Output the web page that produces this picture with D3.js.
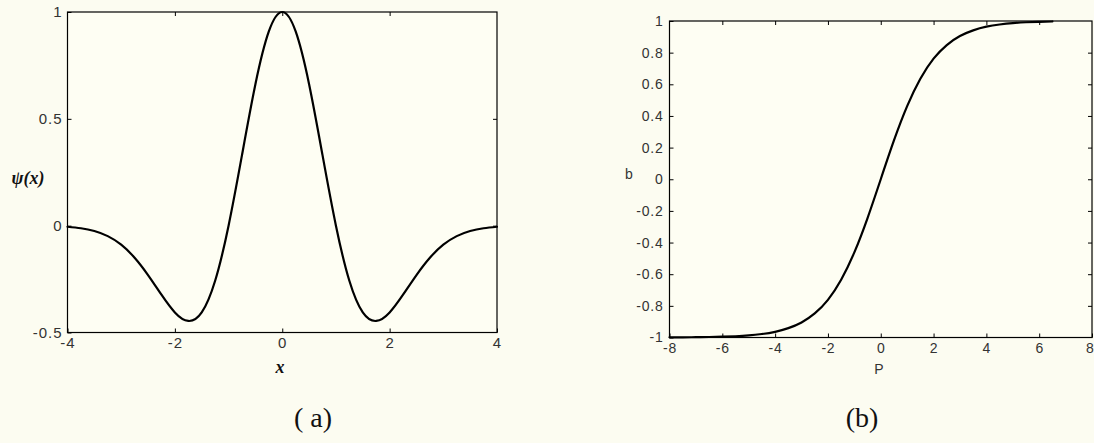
<!DOCTYPE html>
<html>
<head>
<meta charset="utf-8">
<script src="https://cdn.jsdelivr.net/npm/d3@7"></script>
<style>
  html, body { margin: 0; padding: 0; background: #fcfcf1; }
  svg { display: block; }
</style>
</head>
<body>
<svg id="chart" width="1094" height="443"></svg>
<script>
// ---------- data ----------
// Panel (a): psi(x)
const aX = [-4,-3.75,-3.5,-3.25,-3,-2.75,-2.5,-2.25,-2,-1.75,-1.5,-1.25,-1,-0.75,-0.5,-0.25,0,
            0.25,0.5,0.75,1,1.25,1.5,1.75,2,2.25,2.5,2.75,3,3.25,3.5,3.75,4];
const aY = [-0.005,-0.012,-0.025,-0.049,-0.089,-0.150,-0.231,-0.323,-0.406,-0.446,-0.406,-0.258,0,0.330,0.662,0.909,1,
            0.909,0.662,0.330,0,-0.258,-0.406,-0.446,-0.406,-0.323,-0.231,-0.150,-0.089,-0.049,-0.025,-0.012,-0.005];
const aXTicks = [-4, -2, 0, 2, 4];
const aXTickLabels = ["-4", "-2", "0", "2", "4"];
const aYTicks = [-0.5, 0, 0.5, 1];
const aYTickLabels = ["-0.5", "0", "0.5", "1"];

// Panel (b): bipolar sigmoid
const bX = [-8,-7.5,-7,-6.5,-6,-5.5,-5,-4.5,-4,-3.5,-3,-2.5,-2,-1.5,-1,-0.5,0,
            0.5,1,1.5,2,2.5,3,3.5,4,4.5,5,5.5,6,6.5];
const bY = [-0.999,-0.999,-0.998,-0.997,-0.995,-0.992,-0.987,-0.978,-0.964,-0.941,-0.905,-0.848,-0.762,-0.635,-0.462,-0.245,0,
            0.245,0.462,0.635,0.762,0.848,0.905,0.941,0.964,0.978,0.987,0.992,0.995,0.997];
const bXTicks = [-8, -6, -4, -2, 0, 2, 4, 6, 8];
const bXTickLabels = ["-8", "-6", "-4", "-2", "0", "2", "4", "6", "8"];
const bYTicks = [-1, -0.8, -0.6, -0.4, -0.2, 0, 0.2, 0.4, 0.6, 0.8, 1];
const bYTickLabels = ["-1", "-0.8", "-0.6", "-0.4", "-0.2", "0", "0.2", "0.4", "0.6", "0.8", "1"];

const captions = ["( a)", "(b)"];

// ---------- drawing ----------
const svg = d3.select("#chart");

function panel(cfg) {
  const x = d3.scaleLinear().domain(cfg.xDomain).range([cfg.left, cfg.right]);
  const y = d3.scaleLinear().domain(cfg.yDomain).range([cfg.bottom, cfg.top]);
  const g = svg.append("g");

  g.append("rect")
    .attr("x", cfg.left).attr("y", cfg.top)
    .attr("width", cfg.right - cfg.left).attr("height", cfg.bottom - cfg.top)
    .attr("fill", "#fefef3");

  const fmtX = (d) => cfg.xLabels[cfg.xTicks.indexOf(d)];
  const fmtY = (d) => cfg.yLabels[cfg.yTicks.indexOf(d)];
  const ts = cfg.tickLen;

  const styleAxis = (sel, showText) => {
    sel.select(".domain").remove();
    sel.selectAll(".tick line").attr("stroke", "#000").attr("stroke-width", 1);
    sel.selectAll(".tick text")
      .attr("fill", "#333")
      .style("font-family", "'Liberation Sans', Arial, sans-serif")
      .style("font-size", cfg.tickFont + "px")
      .style("letter-spacing", cfg.spacing + "px");
    if (!showText) sel.selectAll(".tick text").remove();
  };

  const xb = g.append("g").attr("transform", `translate(0,${cfg.bottom})`)
    .call(d3.axisBottom(x).tickValues(cfg.xTicks).tickFormat(fmtX).tickSize(-ts).tickPadding(cfg.xPad))
    .call(s => styleAxis(s, true));
  if (cfg.lastXEnd) {
    xb.selectAll(".tick text").filter(d => d === cfg.xTicks[cfg.xTicks.length - 1])
      .attr("text-anchor", "end").attr("x", 2);
  }
  g.append("g").attr("transform", `translate(0,${cfg.top})`)
    .call(d3.axisTop(x).tickValues(cfg.xTicks.slice(1, -1)).tickSize(-ts))
    .call(s => styleAxis(s, false));
  g.append("g").attr("transform", `translate(${cfg.left},0)`)
    .call(d3.axisLeft(y).tickValues(cfg.yTicks).tickFormat(fmtY).tickSize(-ts).tickPadding(cfg.yPad))
    .call(s => styleAxis(s, true));
  g.append("g").attr("transform", `translate(${cfg.right},0)`)
    .call(d3.axisRight(y).tickValues(cfg.yTicks.slice(1, -1)).tickSize(-ts))
    .call(s => styleAxis(s, false));

  g.append("rect")
    .attr("x", cfg.left).attr("y", cfg.top)
    .attr("width", cfg.right - cfg.left).attr("height", cfg.bottom - cfg.top)
    .attr("fill", "none").attr("stroke", "#000").attr("stroke-width", 1.2);

  const pts = cfg.xs.map((v, i) => [v, cfg.ys[i]]);
  const line = d3.line().x(d => x(d[0])).y(d => y(d[1])).curve(d3.curveNatural);
  g.append("path").datum(pts)
    .attr("d", line)
    .attr("fill", "none").attr("stroke", "#000").attr("stroke-width", 2.2)
    .attr("stroke-linejoin", "round").attr("stroke-linecap", "round");

  return { x, y, g };
}

const A = panel({
  left: 67.5, right: 497, top: 12, bottom: 332.5,
  xDomain: [-4, 4], yDomain: [-0.5, 1],
  xTicks: aXTicks, xLabels: aXTickLabels, yTicks: aYTicks, yLabels: aYTickLabels,
  xs: aX, ys: aY, tickLen: 4, tickFont: 15, spacing: 1, xPad: 5, yPad: 5
});
const B = panel({
  left: 669.5, right: 1092, top: 21, bottom: 337.5,
  xDomain: [-8, 8], yDomain: [-1, 1],
  xTicks: bXTicks, xLabels: bXTickLabels, yTicks: bYTicks, yLabels: bYTickLabels,
  xs: bX, ys: bY, tickLen: 4, tickFont: 14, spacing: 0.8, xPad: 6, yPad: 6, lastXEnd: true
});

// axis titles
svg.append("text")
  .attr("x", 28).attr("y", 180)
  .attr("text-anchor", "middle").attr("dominant-baseline", "middle")
  .style("font-family", "'Liberation Serif', 'Times New Roman', serif")
  .style("font-size", "18px").style("font-weight", "bold").style("font-style", "italic")
  .attr("fill", "#111")
  .text("ψ(x)");
svg.append("text")
  .attr("x", 280).attr("y", 369)
  .attr("text-anchor", "middle").attr("dominant-baseline", "middle")
  .style("font-family", "'Liberation Serif', 'Times New Roman', serif")
  .style("font-size", "18px").style("font-weight", "bold").style("font-style", "italic")
  .attr("fill", "#111")
  .text("x");
svg.append("text")
  .attr("x", 629).attr("y", 175)
  .attr("text-anchor", "middle").attr("dominant-baseline", "middle")
  .style("font-family", "'Liberation Sans', Arial, sans-serif")
  .style("font-size", "14px")
  .attr("fill", "#333")
  .text("b");
svg.append("text")
  .attr("x", 879).attr("y", 370)
  .attr("text-anchor", "middle").attr("dominant-baseline", "middle")
  .style("font-family", "'Liberation Sans', Arial, sans-serif")
  .style("font-size", "14px")
  .attr("fill", "#333")
  .text("P");

// captions
const capX = [313, 862];
svg.selectAll("text.cap").data(captions).enter().append("text")
  .attr("class", "cap")
  .attr("x", (d, i) => capX[i]).attr("y", 427)
  .attr("text-anchor", "middle")
  .style("font-family", "'Liberation Serif', 'Times New Roman', serif")
  .style("font-size", "28px")
  .attr("fill", "#111")
  .style("white-space", "pre")
  .text(d => d);
</script>
</body>
</html>
